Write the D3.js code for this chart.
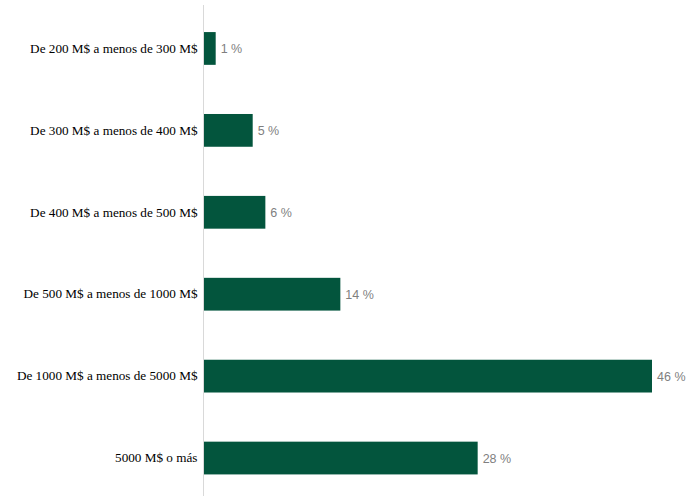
<!DOCTYPE html>
<html>
<head>
<meta charset="utf-8">
<script src="https://cdn.jsdelivr.net/npm/d3@7/dist/d3.min.js"></script>
<style>
  body { margin: 0; background: #fff; }
  .cat { font-family: "Liberation Serif", "Times New Roman", serif; font-size: 13.2px; fill: #000; }
  .val { font-family: "Liberation Sans", Arial, sans-serif; font-size: 12.5px; fill: #7f7f7f; }
</style>
</head>
<body>
<div id="visual"></div>
<script>
///// DATA /////
var categories = [
	"De 200 M$ a menos de 300 M$",
	"De 300 M$ a menos de 400 M$",
	"De 400 M$ a menos de 500 M$",
	"De 500 M$ a menos de 1000 M$",
	"De 1000 M$ a menos de 5000 M$",
	"5000 M$ o más"
];
var values = [1.2, 5.0, 6.3, 14.0, 46.0, 28.1];
var valueLabels = ["1 %", "5 %", "6 %", "14 %", "46 %", "28 %"];

///// DIMENSIONS /////
var width = 687,
	height = 496,
	axisX = 204;

var svg = d3.select('#visual')
	.append('svg')
	.attr('width', width)
	.attr('height', height);

var xScale = d3.scaleLinear()
	.domain([0, 46])
	.range([axisX, 652]);

var yScale = d3.scaleBand()
	.domain(categories)
	.range([7.5, 499])
	.paddingInner(0.6)
	.paddingOuter(0.3);

///// BARS /////
svg.selectAll('.bar')
	.data(values).enter().append('rect')
	.attr('class', 'bar')
	.attr('x', xScale(0))
	.attr('y', (d, i) => yScale(categories[i]))
	.attr('width', d => xScale(d) - xScale(0))
	.attr('height', yScale.bandwidth())
	.style('fill', '#03553d');

// value labels
svg.selectAll('.val')
	.data(values).enter().append('text')
	.attr('class', 'val')
	.attr('x', d => xScale(d) + 5)
	.attr('y', (d, i) => yScale(categories[i]) + yScale.bandwidth() / 2 + 5)
	.text((d, i) => valueLabels[i]);

///// AXIS /////
var yAxis = d3.axisLeft(yScale).tickSize(0).tickPadding(6);
var gAxis = svg.append('g')
	.attr('transform', `translate(${axisX - 0.5},0)`)
	.call(yAxis);

gAxis.select('.domain').remove();
gAxis.selectAll('text')
	.attr('class', 'cat')
	.attr('font-family', null)
	.attr('font-size', null);

// vertical baseline
svg.append('line')
	.attr('x1', axisX - 0.5).attr('x2', axisX - 0.5)
	.attr('y1', 5).attr('y2', height)
	.style('stroke', '#d9d9d9')
	.style('stroke-width', 1);
</script>
</body>
</html>
